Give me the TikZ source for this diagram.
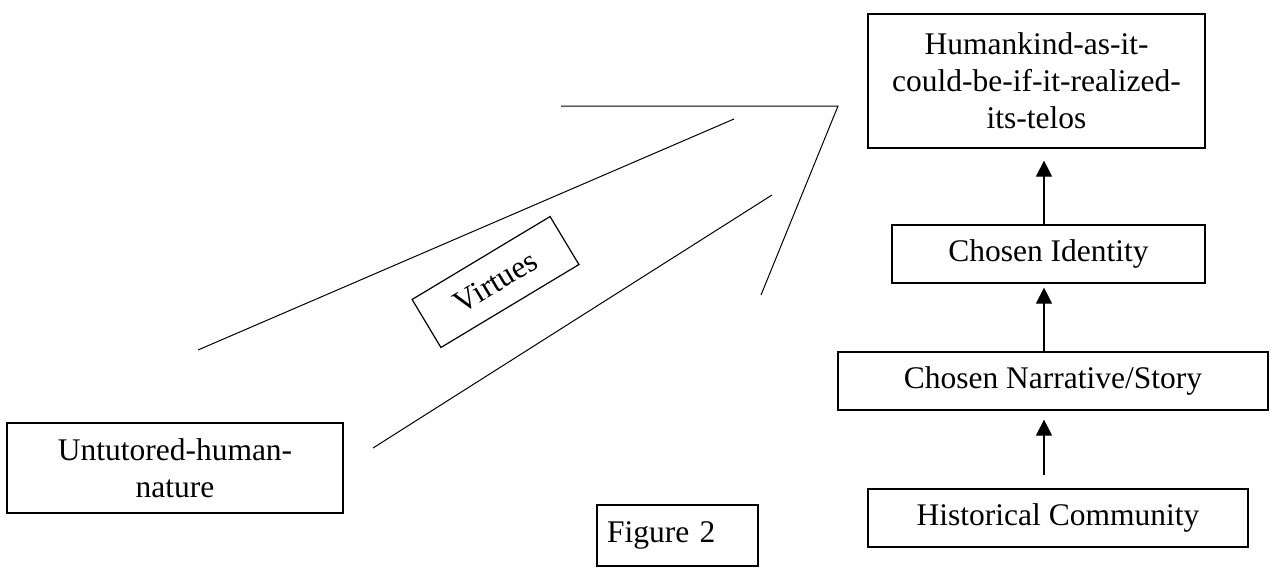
\documentclass[tikz,border=0pt]{standalone}
\usepackage{fontspec}
\setmainfont{Liberation Serif}
\usetikzlibrary{positioning,arrows.meta,calc}

\begin{document}
\begin{tikzpicture}[x=1pt,y=-1pt,line width=1.2pt,
   box/.style={draw,inner sep=0pt,align=center,font=\fontsize{31.5}{37}\selectfont},
   up/.style={-{Triangle[length=16pt,width=16pt]}}]
   \useasboundingbox (0,0) rectangle (1273,571);

   % right column
   \node[box,minimum width=337pt,minimum height=134pt] (telos) at (1036.5,81)
      {Humankind-as-it-\\could-be-if-it-realized-\\its-telos};
   \node[box,minimum width=313pt,minimum height=58pt] (ident) at (1048.5,254) {Chosen Identity};
   \node[box,minimum width=430pt,minimum height=58pt] (story) at (1053,381) {Chosen Narrative/Story};
   \node[box,minimum width=380pt,minimum height=58pt] (hist) at (1058,518) {Historical Community};

   % left side
   \node[box,minimum width=336pt,minimum height=90pt] (nature) at (175,468) {Untutored-human-\\nature};
   \node[box,rotate=31,minimum width=161pt,minimum height=56pt] (virt) at (495.5,282) {Virtues};
   \node[box,minimum width=161pt,minimum height=61pt,text width=141pt,align=left] (fig) at (677.5,535.5) {Figure 2};

   \coordinate (ax) at (1044,0);
   \path[up]
    (hist.north -| ax) edge [shorten <=13pt,shorten >=9pt] (story.south -| ax)
    (story.north -| ax) edge [shorten >=4pt] (ident.south -| ax)
    (ident.north -| ax) edge [shorten >=12pt] (telos.south -| ax);

   % big open arrow
   \draw[line width=1pt] (198,350) -- (734,119);
   \draw[line width=1pt] (373,448) -- (772,195);
   \draw[line width=1pt] (561,106) -- (838,106) -- (761,295);
\end{tikzpicture}
\end{document}
